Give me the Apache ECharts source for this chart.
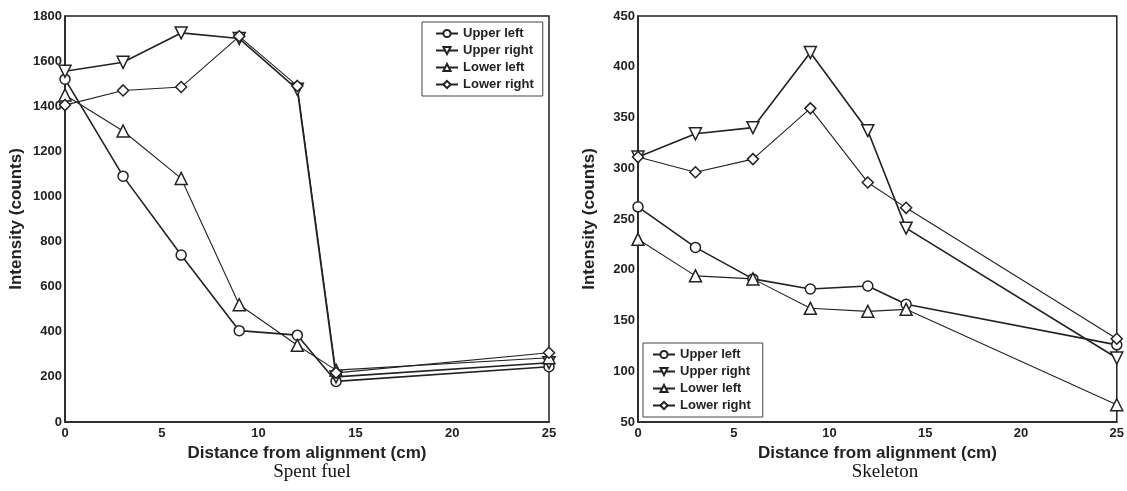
<!DOCTYPE html>
<html><head><meta charset="utf-8">
<script src="https://cdn.jsdelivr.net/npm/echarts@6/dist/echarts.min.js"></script>
<style>html,body{margin:0;padding:0;background:#fff}#c{width:1127px;height:491px}</style>
</head><body><div id="c"></div>
<script>
const distances = [0, 3, 6, 9, 12, 14, 25];
const seriesNames = ['Upper left', 'Upper right', 'Lower left', 'Lower right'];
// Spent fuel
const spentUpperLeft  = [1520, 1090, 740, 405, 385, 180, 245];
const spentUpperRight = [1555, 1595, 1725, 1700, 1475, 200, 263];
const spentLowerLeft  = [1450, 1290, 1080, 520, 340, 230, 285];
const spentLowerRight = [1405, 1470, 1485, 1710, 1490, 218, 307];
// Skeleton
const skelUpperLeft  = [262, 222, 191, 181, 184, 166, 126];
const skelUpperRight = [311, 334, 340, 414, 337, 241, 113];
const skelLowerLeft  = [230, 194, 191, 162, 159, 161, 67];
const skelLowerRight = [311, 296, 309, 359, 286, 261, 132];
const xTicks = [0, 5, 10, 15, 20, 25];
const panelTitles = ['Spent fuel', 'Skeleton'];

const ink = '#222';
const downTri = 'path://M0,0 L10,0 L5,9 Z';
const symbols = ['circle', downTri, 'triangle', 'diamond'];
const widths = [1.6, 1.6, 1.1, 1.1];
const sizes = [10, 12, 12, 11];

function mk(name, data, idx, k) {
  return {
    name: name, type: 'line', xAxisIndex: idx, yAxisIndex: idx,
    data: distances.map((d, i) => [d, data[i]]),
    symbol: symbols[k], symbolSize: sizes[k], showSymbol: true,
    lineStyle: {color: ink, width: widths[k]},
    itemStyle: {color: '#fff', borderColor: ink, borderWidth: 1.5},
    emphasis: {disabled: true}, animation: false
  };
}
const lab = {color: ink, fontFamily: 'Liberation Sans, Arial', fontWeight: 'bold', fontSize: 13};
const nameStyle = {color: ink, fontFamily: 'Liberation Sans, Arial', fontWeight: 'bold', fontSize: 17};
function xa(idx) {
  return {gridIndex: idx, type: 'value', min: 0, max: 25, interval: 5,
    axisLine: {show: true, lineStyle: {color: ink, width: 1.5}}, axisTick: {show: false},
    splitLine: {show: false}, axisLabel: Object.assign({margin: 5}, lab),
    name: 'Distance from alignment (cm)', nameLocation: 'middle', nameGap: 22, nameTextStyle: nameStyle};
}
function ya(idx, min, max, interval) {
  return {gridIndex: idx, type: 'value', min: min, max: max, interval: interval,
    axisLine: {show: true, lineStyle: {color: ink, width: 1.5}}, axisTick: {show: false},
    splitLine: {show: false}, axisLabel: Object.assign({margin: 3, formatter: v => String(v)}, lab),
    name: 'Intensity (counts)', nameLocation: 'middle', nameGap: 40, nameTextStyle: nameStyle};
}
const legendBase = {orient: 'vertical', itemWidth: 22, itemHeight: 9, itemGap: 4,
  backgroundColor: '#fff', borderColor: '#444', borderWidth: 1,
  textStyle: {color: ink, fontFamily: 'Liberation Sans, Arial', fontWeight: 'bold', fontSize: 13, padding: [0, 0, 0, 0]},
  inactiveColor: ink};

const chart = echarts.init(document.getElementById('c'));
chart.setOption({
  backgroundColor: '#fff',
  animation: false,
  title: [
    {text: panelTitles[0], left: 307, top: 458, textAlign: 'center', textStyle: {fontFamily: 'Liberation Serif, Times New Roman', fontWeight: 'normal', fontSize: 19, color: '#111'}},
    {text: panelTitles[1], left: 880, top: 458, textAlign: 'center', textStyle: {fontFamily: 'Liberation Serif, Times New Roman', fontWeight: 'normal', fontSize: 19, color: '#111'}}
  ],
  grid: [
    {left: 65, right: 578, top: 16, bottom: 69, show: true, borderColor: ink, borderWidth: 1.5, backgroundColor: 'transparent'},
    {left: 638, right: 6, top: 16, bottom: 69, show: true, borderColor: ink, borderWidth: 1.5, backgroundColor: 'transparent'}
  ],
  xAxis: [xa(0), xa(1)],
  yAxis: [ya(0, 0, 1800, 200), ya(1, 50, 450, 50)],
  legend: [
    Object.assign({left: 422, top: 22, padding: [5, 9, 5, 13], data: seriesNames.map(n => ({name: n})), selectedMode: false}, legendBase),
    Object.assign({left: 643, top: 343, padding: [5, 12, 5, 9], data: seriesNames.map(n => ({name: n})), selectedMode: false}, legendBase)
  ],
  series: [
    mk(seriesNames[0], spentUpperLeft, 0, 0),
    mk(seriesNames[1], spentUpperRight, 0, 1),
    mk(seriesNames[2], spentLowerLeft, 0, 2),
    mk(seriesNames[3], spentLowerRight, 0, 3),
    mk(seriesNames[0], skelUpperLeft, 1, 0),
    mk(seriesNames[1], skelUpperRight, 1, 1),
    mk(seriesNames[2], skelLowerLeft, 1, 2),
    mk(seriesNames[3], skelLowerRight, 1, 3)
  ]
});
</script></body></html>
